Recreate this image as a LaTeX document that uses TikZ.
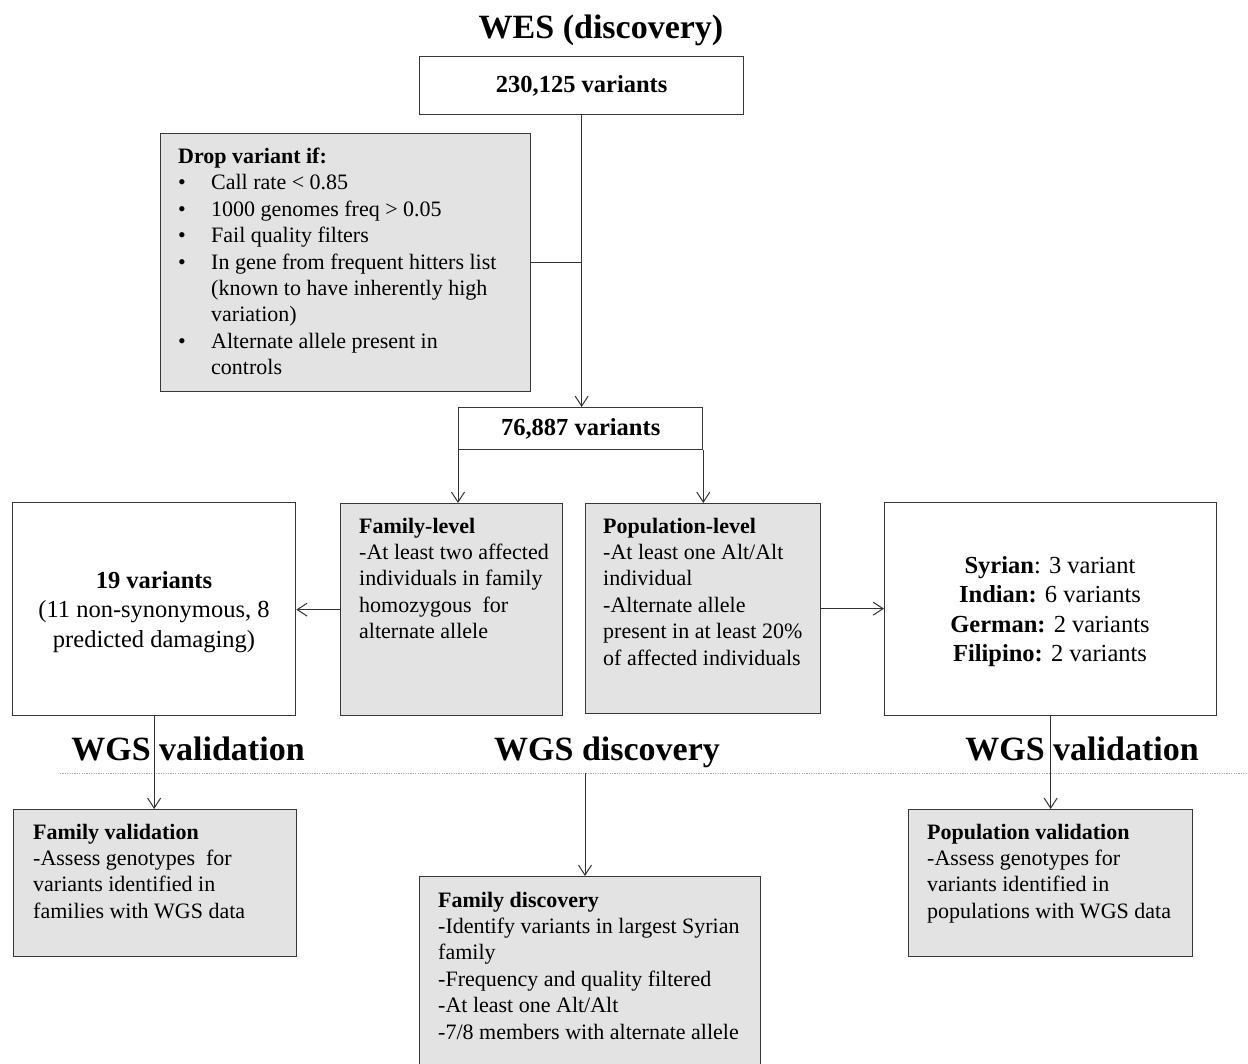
\documentclass[tikz,border=0pt]{standalone}
\usepackage{fontspec}
\setmainfont{Liberation Serif}
\usetikzlibrary{arrows.meta,calc}
\newcommand\bl{\makebox[33pt][l]{\textbullet}}
\newcommand\ind{\makebox[33pt][l]{}}
\tikzset{
  wbox/.style={draw=black!78, line width=1.3pt, fill=white, inner sep=0pt, anchor=north west},
  gbox/.style={wbox, fill=black!11},
  body/.style={font=\fontsize{22}{26.4}\selectfont, align=left, inner sep=0pt, anchor=base west},
  big/.style={font=\fontsize{24.5}{29.5}\selectfont, align=center, inner sep=0pt, anchor=base},
  head/.style={font=\fontsize{24.5}{29.5}\selectfont\bfseries},
  ttl/.style={font=\fontsize{34}{40}\selectfont\bfseries, inner sep=0pt, anchor=base},
  ln/.style={draw=black!80, line width=1pt},
  arr/.style={ln, -{Straight Barb[length=10pt,width=13pt,line width=1pt]}},
}
\begin{document}
\begin{tikzpicture}[x=1pt,y=-1pt]
\useasboundingbox (0,0) rectangle (1248,1064);
% titles
\node[ttl] (t1) at (601,39) {WES (discovery)};
\node[ttl] (t2) at (188,760) {WGS validation};
\node[ttl] (t3) at (607,760) {WGS discovery};
\node[ttl] (t4) at (1082,760) {WGS validation};
\draw[gray!70, line width=1pt, dash pattern=on 1.2pt off 1.2pt] (60,773) -- (1248,773);
% boxes
\node[wbox, minimum width=324, minimum height=58, head] (top) at (419,56) {230,125 variants};
\node[gbox, minimum width=370, minimum height=258] (drop) at (160,133) {};
\node[wbox, minimum width=244, minimum height=42, head] (mid) at (458,407) {76,887 variants};
\node[wbox, minimum width=283, minimum height=213] (v19) at (12,502) {};
\node[gbox, minimum width=222, minimum height=212] (fam) at (340,503) {};
\node[gbox, minimum width=235, minimum height=210] (pop) at (585,503) {};
\node[wbox, minimum width=332, minimum height=213] (syr) at (884,502) {};
\node[gbox, minimum width=283, minimum height=147] (famval) at (13,809) {};
\node[gbox, minimum width=341, minimum height=200] (famdisc) at (419,876) {};
\node[gbox, minimum width=284, minimum height=147] (popval) at (908,809) {};
% texts (anchored at the baseline of their last line)
\node[body] (droptxt) at (178,374.7) {\textbf{Drop variant if:}\\
\bl Call rate < 0.85\\
\bl 1000 genomes freq > 0.05\\
\bl Fail quality filters\\
\bl In gene from frequent hitters list\\
\ind (known to have inherently high\\
\ind variation)\\
\bl Alternate allele present in\\
\ind controls};
\node[body] (famtxt) at (359,638.6) {\textbf{Family-level}\\-At least two affected\\individuals in family\\homozygous\ \ for\\alternate allele};
\node[body] (poptxt) at (603,665) {\textbf{Population-level}\\-At least one Alt/Alt\\individual\\-Alternate allele\\present in at least 20\%\\of affected individuals};
\node[big] (v19txt) at (154,647) {\textbf{19 variants}\\(11 non-synonymous, 8\\predicted damaging)};
\node[big] (syrtxt) at (1050,661.5) {\textbf{Syrian}: 3 variant\\\textbf{Indian:} 6 variants\\\textbf{German:} 2 variants\\\textbf{Filipino:} 2 variants};
\node[body] (famvaltxt) at (33,918.2) {\textbf{Family validation}\\-Assess genotypes\ \ for\\variants identified in\\families with WGS data};
\node[body] (famdisctxt) at (438,1039) {\textbf{Family discovery}\\-Identify variants in largest Syrian\\family\\-Frequency and quality filtered\\-At least one Alt/Alt\\-7/8 members with alternate allele};
\node[body] (popvaltxt) at (927,918.2) {\textbf{Population validation}\\-Assess genotypes for\\variants identified in\\populations with WGS data};
% connectors
\coordinate (wgsd) at (585,773);
\draw[arr] (top.south) -- (top.south |- mid.north);
\draw[ln] (drop.east) -- (drop.east -| top.south);
\draw[arr] (mid.south west) -- (mid.south west |- fam.north);
\draw[arr] (mid.south east) -- (mid.south east |- pop.north);
\draw[arr] (fam.west) -- (fam.west -| v19.east);
\draw[arr] (pop.east) -- (pop.east -| syr.west);
\draw[arr] (v19.south) -- (v19.south |- famval.north);
\draw[arr] (syr.south) -- (syr.south |- popval.north);
\draw[arr] (wgsd) -- (wgsd |- famdisc.north);
\end{tikzpicture}
\end{document}
